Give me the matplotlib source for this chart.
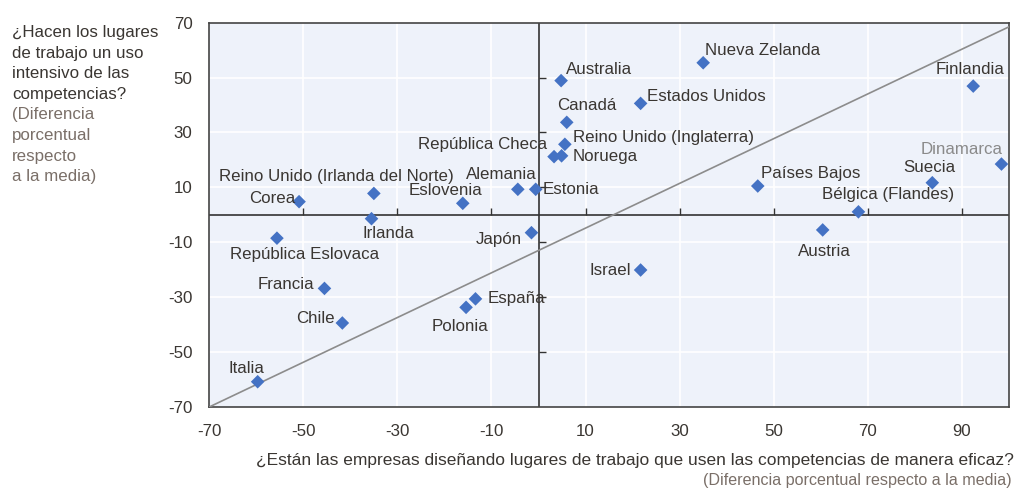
import matplotlib
matplotlib.use('Agg')
import matplotlib.pyplot as plt
import numpy as np

plt.rcParams['font.family'] = ['Liberation Sans', 'DejaVu Sans']
plt.rcParams['axes.unicode_minus'] = False

# data
countries = ['Australia', 'Canadá', 'Reino Unido (Inglaterra)', 'Noruega', 'República Checa',
             'Nueva Zelanda', 'Estados Unidos', 'Finlandia', 'Dinamarca', 'Suecia',
             'Países Bajos', 'Bélgica (Flandes)', 'Estonia', 'Alemania', 'Eslovenia',
             'Reino Unido (Irlanda del Norte)', 'Corea', 'Irlanda', 'República Eslovaca',
             'Japón', 'Francia', 'Chile', 'España', 'Polonia', 'Italia', 'Israel', 'Austria']
x_design = [4.8, 6.0, 5.6, 4.9, 3.3,
            35.0, 21.7, 92.4, 98.4, 83.7,
            46.6, 68.0, -0.6, -4.4, -16.1,
            -35.0, -50.9, -35.5, -55.6,
            -1.5, -45.5, -41.7, -13.4, -15.4, -59.7, 21.7, 60.4]
y_use = [48.9, 33.7, 25.7, 21.5, 21.2,
         55.4, 40.6, 46.9, 18.5, 11.7,
         10.5, 1.1, 9.3, 9.3, 4.2,
         7.8, 4.8, -1.4, -8.5,
         -6.5, -26.8, -39.4, -30.6, -33.7, -60.8, -20.1, -5.5]
trend_x = [-70, 100]
trend_y = [-70, 68.5]
ticks_x = [-70, -50, -30, -10, 10, 30, 50, 70, 90]
ticks_y = [-70, -50, -30, -10, 10, 30, 50, 70]

# label placement: (dx px, dy px upwards, ha)
place = {
    'Australia': (5, 11, 'left'), 'Canadá': (20, 17, 'center'),
    'Reino Unido (Inglaterra)': (8, 7, 'left'), 'Noruega': (11, -1, 'left'),
    'República Checa': (-7, 12, 'right'), 'Nueva Zelanda': (2, 12, 'left'),
    'Estados Unidos': (6, 7, 'left'), 'Finlandia': (-3, 17, 'center'),
    'Dinamarca': (1, 15, 'right'), 'Suecia': (-3, 15, 'center'),
    'Países Bajos': (3, 13, 'left'), 'Bélgica (Flandes)': (30, 17, 'center'),
    'Estonia': (7, 0, 'left'), 'Alemania': (-16, 15, 'center'),
    'Eslovenia': (-17, 13, 'center'), 'Reino Unido (Irlanda del Norte)': (-37, 17, 'center'),
    'Corea': (-4, 3, 'right'), 'Irlanda': (17, -15, 'center'),
    'República Eslovaca': (28, -16, 'center'), 'Japón': (-10, -7, 'right'),
    'Francia': (-10, 4, 'right'), 'Chile': (-8, 4, 'right'),
    'España': (12, 0, 'left'), 'Polonia': (-6, -19, 'center'),
    'Italia': (-11, 13, 'center'), 'Israel': (-10, 0, 'right'),
    'Austria': (2, -22, 'center'),
}

text_c = '#3a3632'
light_c = '#7a6f68'
blue = '#4472c4'
fs = 12.2

fig = plt.figure(figsize=(10.16, 4.88), dpi=100)
ax = fig.add_axes([0.2059, 0.166, 0.7872, 0.7875])
ax.set_facecolor('#eef2fa')
ax.set_xlim(-70, 100)
ax.set_ylim(-70, 70)

for v in [-50, -30, -10, 10, 30, 50, 70, 90]:
    ax.axvline(v, color='white', lw=1.2, zorder=1)
for v in [-50, -30, -10, 10, 30, 50]:
    ax.axhline(v, color='white', lw=1.2, zorder=1)

ax.axhline(0, color='#333333', lw=1.2, zorder=2)
ax.axvline(0, color='#333333', lw=1.2, zorder=2)
tx = [v for v in ticks_x if v > -70]
ax.plot(tx, np.zeros(len(tx)), ls='none', marker=2, ms=5, mew=1, color='#333333', zorder=2)
ty = [v for v in ticks_y if -70 < v < 70]
ax.plot(np.zeros(len(ty)), ty, ls='none', marker=1, ms=5, mew=1, color='#333333', zorder=2)

ax.plot(trend_x, trend_y, color='#8c8c8c', lw=1.2, zorder=3)
ax.scatter(x_design, y_use, marker='D', s=48, color=blue, edgecolors='none', zorder=4)

for name, xv, yv in zip(countries, x_design, y_use):
    dx, dy, ha = place[name]
    col = '#8a8a8a' if name == 'Dinamarca' else text_c
    ax.annotate(name, (xv, yv), xytext=(dx * 0.72, dy * 0.72), textcoords='offset points',
                ha=ha, va='center', fontsize=fs, color=col, zorder=5)

ax.set_xticks(ticks_x)
ax.set_yticks(ticks_y)
ax.tick_params(axis='x', length=0, labelsize=fs, labelcolor=text_c, pad=12)
ax.tick_params(axis='y', length=0, labelsize=fs, labelcolor=text_c, pad=12)
for s in ax.spines.values():
    s.set_color('#444444')
    s.set_linewidth(1.2)

ylines = ['¿Hacen los lugares', 'de trabajo un uso', 'intensivo de las', 'competencias?',
          '(Diferencia', 'porcentual', 'respecto', 'a la media)']
for i, line in enumerate(ylines):
    fig.text(12 / 1016, 1 - (33 + 20.5 * i) / 488, line, ha='left', va='center',
             fontsize=fs, color=text_c if i < 4 else light_c)

fig.text(1014 / 1016, 1 - 461 / 488,
         '¿Están las empresas diseñando lugares de trabajo que usen las competencias de manera eficaz?',
         ha='right', va='center', fontsize=fs + 0.3, color=text_c)
fig.text(1012 / 1016, 1 - 481 / 488, '(Diferencia porcentual respecto a la media)',
         ha='right', va='center', fontsize=11.6, color=light_c)

fig.savefig('out.png', dpi=100)
